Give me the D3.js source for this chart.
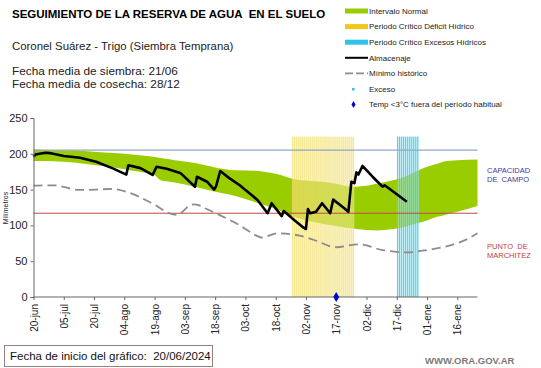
<!DOCTYPE html>
<html>
<head>
<meta charset="utf-8">
<script src="https://cdn.jsdelivr.net/npm/d3@7/dist/d3.min.js"></script>
<style>
  html, body { margin: 0; padding: 0; background: #fff; }
  svg { display: block; }
  text { font-family: "Liberation Sans", Arial, sans-serif; white-space: pre; }
</style>
</head>
<body>
<svg id="chart" width="541" height="368"></svg>
<script>
// ---------------- DATA ----------------
const startDate = "2024-06-20";          // fecha de inicio del gráfico
const tickLabels = ["20-jun","05-jul","20-jul","04-ago","19-ago","03-sep","18-sep","03-oct","18-oct","02-nov","17-nov","02-dic","17-dic","01-ene","16-ene"];
const yTicks = [0, 50, 100, 150, 200, 250];

const capacidadCampo = 205;   // mm
const puntoMarchitez = 117;   // mm

// Intervalo normal: [días desde inicio, mínimo, máximo]
const intervaloNormal = [
  [0,190,206],[10,189.5,205],[20,188,204.5],[30,184.5,203],[40,181,201],[50,176,198.5],
  [60,170,195.5],[63,163,194],[70,160,191],[80,154,187],[90,147,181],[100,141,177],
  [110,132.5,176.5],[120,123,172],[130,111,164],[140,104,161.5],[150,99,158],
  [157,96,154],[160,95,154],[170,93,158],[180,95.5,164.5],[184,98,168],[190,103,176],
  [195,107,182],[200,112,186],[203,114,189],[210,119,191],[220,127,192]
];

// Almacenaje: [días desde inicio, mm]
const almacenaje = [
  [0,196],[1,199],[3,200],[6,201.5],[8,201],[15,197],[23,194.5],[31,189],[39,180],
  [46,171],[47,184],[53,180],[59,170.4],[61,182],[66,179],[73,172.7],[80,154],
  [81,168],[86,161],[89.5,150],[90.5,155],[92.5,176],[97,166],[102,156.4],[107,145],
  [111,135.5],[116,117],[118,131],[123,113],[124,120],[129,108],[134,96.5],[135,95],
  [136,123],[137,117],[140,119],[143,131],[147,117],[148.5,136],[154,124],[156,119],
  [157.5,161],[159,159],[160,174],[161,171],[163,183],[168,168],[173,154],[174,156],[185,133]
];

// Mínimo histórico: [días desde inicio, mm]
const minimoHistorico = [
  [0,155.5],[10,156],[23,149.5],[31,150],[39,151],[48,145],[58,132],[69,115.5],[71,114.5],
  [78,128.5],[80,129.5],[86,122.5],[94,112],[102,100.5],[111,85],[113,83],[121,89],
  [132,85.6],[139,79.6],[150,69.5],[161,73.6],[173,65.6],[185,62.4],[195,65.6],
  [207,72.6],[215,81],[220,89]
];

const periodoDeficit = ["2024-10-26", "2024-11-25"];
const periodoExcesos = ["2024-12-17", "2024-12-27"];
const periodoTope = 224;   // altura de las bandas de período crítico (mm)

const tempBaja = [["2024-11-17", 0]];   // Temp <3°C fuera del período habitual
const excesos = [];                     // Exceso (sin registros)

const legendItems = [
  {label: "Intervalo Normal", type: "bar", color: "#9acd00"},
  {label: "Periodo Crítico Déficit Hídrico", type: "bar", color: "#f5c518"},
  {label: "Periodo Crítico Excesos Hídricos", type: "bar", color: "#2ec4ea"},
  {label: "Almacenaje", type: "line"},
  {label: "Mínimo histórico", type: "dash"},
  {label: "Exceso", type: "dot"},
  {label: "Temp <3°C fuera del período habitual", type: "diamond"}
];

// ---------------- CHART ----------------
const svg = d3.select("#chart");
const parse = d3.timeParse("%Y-%m-%d");
const t0 = parse(startDate);
const dayToDate = d => new Date(t0.getTime() + d * 864e5);

const x = d3.scaleTime()
  .domain([t0, d3.timeDay.offset(t0, 220)])
  .range([33.5, 477.5]);
const y = d3.scaleLinear().domain([0, 250]).range([297, 118]);
const xd = d => x(dayToDate(d));

// Green band
svg.append("path")
  .datum(intervaloNormal)
  .attr("fill", "#9acd00")
  .attr("d", d3.area().x(d => xd(d[0])).y0(d => y(d[1])).y1(d => y(d[2])).curve(d3.curveMonotoneX));

// Critical periods (daily stripes)
function period(range, bg, bgOp, stripe, stOp) {
  const a = parse(range[0]), b = d3.timeDay.offset(parse(range[1]), 1);
  const g = svg.append("g");
  g.append("rect").attr("x", x(a)).attr("width", x(b) - x(a))
    .attr("y", y(periodoTope)).attr("height", y(0) - y(periodoTope))
    .attr("fill", bg).attr("opacity", bgOp);
  const days = d3.timeDay.range(a, b);
  g.selectAll("rect.s").data(days).join("rect").attr("class", "s")
    .attr("x", d => x(d) + 0.3).attr("width", 1.1)
    .attr("y", y(periodoTope)).attr("height", y(0) - y(periodoTope))
    .attr("fill", stripe).attr("opacity", stOp);
}
period(periodoDeficit, "#faf2c0", 0.45, "#f0d850", 0.65);
period(periodoExcesos, "#c8f0f8", 0.5, "#38c6e0", 0.85);

// Reference lines
svg.append("line").attr("x1", 33.5).attr("x2", 477.5)
  .attr("y1", y(capacidadCampo)).attr("y2", y(capacidadCampo))
  .attr("stroke", "#8fa8c8").attr("stroke-width", 1.2);
svg.append("line").attr("x1", 33.5).attr("x2", 477.5)
  .attr("y1", y(puntoMarchitez)).attr("y2", y(puntoMarchitez))
  .attr("stroke", "#c04848").attr("stroke-width", 1);

// Mínimo histórico
svg.append("path").datum(minimoHistorico)
  .attr("fill", "none").attr("stroke", "#8c8c8c").attr("stroke-width", 1.8)
  .attr("stroke-dasharray", "9,5")
  .attr("d", d3.line().x(d => xd(d[0])).y(d => y(d[1])).curve(d3.curveMonotoneX));

// Almacenaje
svg.append("path").datum(almacenaje)
  .attr("fill", "none").attr("stroke", "#000").attr("stroke-width", 2.6)
  .attr("stroke-linejoin", "round")
  .attr("d", d3.line().x(d => xd(d[0])).y(d => y(d[1])));

// Axes
const yAxis = svg.append("g").attr("transform", "translate(33.5,0)")
  .call(d3.axisLeft(y).tickValues(yTicks).tickSize(3).tickPadding(3));
yAxis.select(".domain").attr("stroke", "#666");
yAxis.selectAll(".tick line").attr("stroke", "#666");
yAxis.selectAll("text").attr("font-size", 11).attr("fill", "#222")
  .attr("font-family", "Liberation Sans, Arial, sans-serif");

const tickDates = tickLabels.map((_, i) => d3.timeDay.offset(t0, i * 15));
const xAxis = svg.append("g").attr("transform", "translate(0,297)")
  .call(d3.axisBottom(x).tickValues(tickDates).tickSize(3)
    .tickFormat((d, i) => tickLabels[i]));
xAxis.select(".domain").attr("stroke", "#666").attr("d", "M33.5,0H477.5");
xAxis.selectAll(".tick line").attr("stroke", "#666");
xAxis.selectAll("text").attr("font-size", 10).attr("fill", "#222")
  .attr("font-family", "Liberation Sans, Arial, sans-serif")
  .attr("text-anchor", "end").attr("dy", "0.35em")
  .attr("transform", "translate(0,3) rotate(-90)").attr("x", -4).attr("y", 0);

// Diamond markers
svg.selectAll(".temp").data(tempBaja).join("path")
  .attr("transform", d => `translate(${x(parse(d[0]))},${y(d[1])})`)
  .attr("d", d3.symbol(d3.symbolDiamond, 30)()).attr("fill", "#0000d0");
svg.selectAll(".exc").data(excesos).join("rect")
  .attr("x", d => x(parse(d[0])) - 1.5).attr("y", d => y(d[1]) - 1.5)
  .attr("width", 3).attr("height", 3).attr("fill", "#2ec4e0");

// Y label
svg.append("text").attr("transform", "translate(8,208) rotate(-90)")
  .attr("text-anchor", "middle").attr("font-size", 7).attr("fill", "#222").text("Milímetros");

// Titles
svg.append("text").attr("x", 12).attr("y", 18).attr("font-size", 11.5).attr("font-weight", "bold")
  .attr("fill", "#000").text("SEGUIMIENTO DE LA RESERVA DE AGUA  EN EL SUELO");
svg.append("text").attr("x", 12).attr("y", 50).attr("font-size", 11.4).attr("fill", "#222")
  .text("Coronel Suárez - Trigo (Siembra Temprana)");
svg.append("text").attr("x", 12).attr("y", 75).attr("font-size", 11.8).attr("fill", "#222")
  .text("Fecha media de siembra: 21/06");
svg.append("text").attr("x", 12).attr("y", 88).attr("font-size", 11.8).attr("fill", "#222")
  .text("Fecha media de cosecha: 28/12");

// Legend
const lg = svg.append("g");
legendItems.forEach((it, i) => {
  const yy = 11 + i * 15.6;
  if (it.type === "bar") {
    lg.append("rect").attr("x", 345).attr("y", yy - 2.5).attr("width", 23).attr("height", 5).attr("fill", it.color);
  } else if (it.type === "line") {
    lg.append("line").attr("x1", 345).attr("x2", 368).attr("y1", yy).attr("y2", yy).attr("stroke", "#000").attr("stroke-width", 2);
  } else if (it.type === "dash") {
    lg.append("line").attr("x1", 345).attr("x2", 368).attr("y1", yy).attr("y2", yy).attr("stroke", "#8c8c8c").attr("stroke-width", 1.8).attr("stroke-dasharray", "8,3");
  } else if (it.type === "dot") {
    lg.append("rect").attr("x", 352).attr("y", yy - 1).attr("width", 2.5).attr("height", 2.5).attr("fill", "#2ec4e0");
  } else if (it.type === "diamond") {
    lg.append("path").attr("transform", `translate(353.5,${yy})`).attr("d", d3.symbol(d3.symbolDiamond, 14)()).attr("fill", "#0000d0");
  }
  lg.append("text").attr("x", 369)
    .attr("y", yy).attr("dy", "0.35em").attr("font-size", 8).attr("fill", "#222").text(it.label);
});

// Right labels
svg.append("text").attr("x", 487).attr("y", 173).attr("font-size", 7.5).attr("fill", "#3a3aa0").text("CAPACIDAD");
svg.append("text").attr("x", 487).attr("y", 182).attr("font-size", 7.5).attr("fill", "#3a3aa0").text("DE  CAMPO");
svg.append("text").attr("x", 487).attr("y", 249).attr("font-size", 7.5).attr("fill", "#c83a3a").text("PUNTO  DE");
svg.append("text").attr("x", 487).attr("y", 258).attr("font-size", 7.5).attr("fill", "#c83a3a").text("MARCHITEZ");

// Bottom box
svg.append("rect").attr("x", 4.5).attr("y", 345.5).attr("width", 208).attr("height", 21)
  .attr("fill", "#fff").attr("stroke", "#9c8080").attr("stroke-width", 1);
svg.append("text").attr("x", 10).attr("y", 360).attr("font-size", 11.5).attr("fill", "#111")
  .attr("font-family", "Lato, 'Liberation Sans', sans-serif")
  .text("Fecha de inicio del gráfico:  20/06/2024");
svg.append("text").attr("x", 425).attr("y", 364).attr("font-size", 9.5).attr("font-weight", "bold")
  .attr("fill", "#7a7a7a").text("WWW.ORA.GOV.AR");
</script>
</body>
</html>
